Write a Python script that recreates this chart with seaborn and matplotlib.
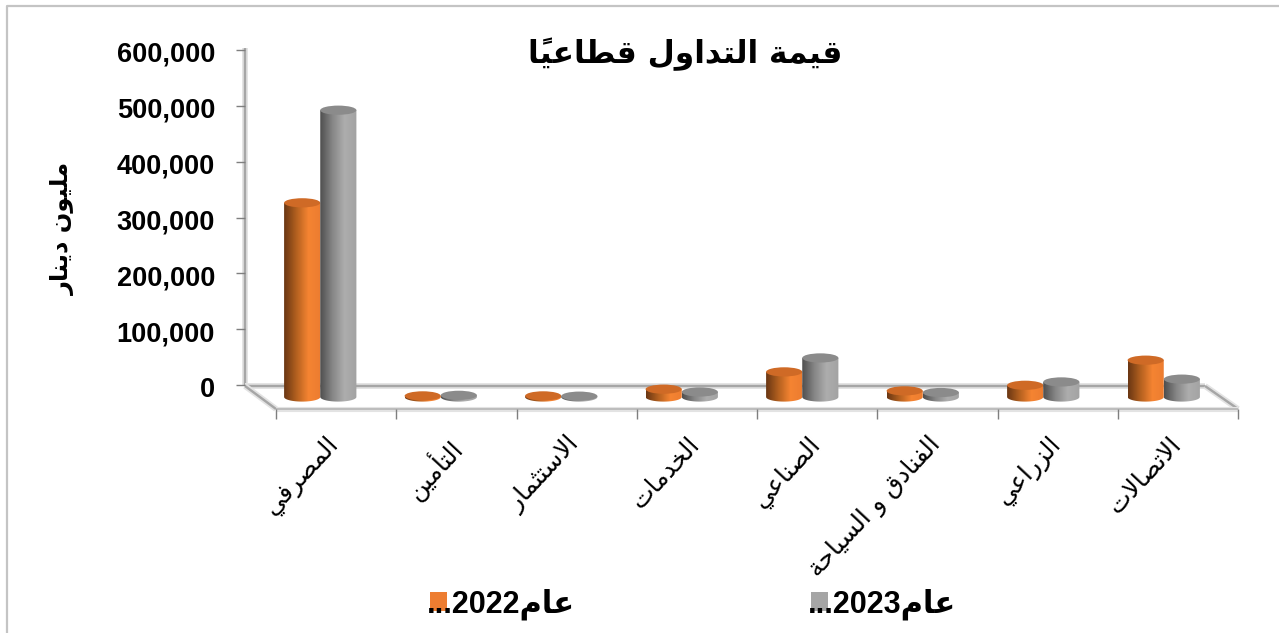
import re
import numpy as np
import pandas as pd
import matplotlib
matplotlib.use('Agg')
import matplotlib.pyplot as plt
import seaborn as sns
from matplotlib.colors import LinearSegmentedColormap
from matplotlib.patches import Ellipse, Patch, PathPatch
from matplotlib.path import Path
from matplotlib.transforms import ScaledTranslation

# Values (million dinars)
sectors = ['المصرفي', 'التأمين', 'الاستثمار', 'الخدمات', 'الصناعي',
           'الفنادق و السياحة', 'الزراعي', 'الاتصالات']
values_2022 = [348000, 2000, 2000, 14000, 45000, 11000, 21000, 66000]
values_2023 = [514000, 3000, 1500, 9000, 70000, 8000, 27000, 32000]
series_names = ['عام2022...', 'عام2023...']
y_ticks = [0, 100000, 200000, 300000, 400000, 500000, 600000]
title_text = 'قيمة التداول قطاعياً'
y_title = 'مليون دينار'

W, H = 1279, 633
FLAT = ['#ed7d31', '#a5a5a5']
TOPS = ['#cf6a26', '#8b8b8b']
RAMPS = [
    LinearSegmentedColormap.from_list('o', ['#6a3713', '#b3601f', '#f58432', '#ec7c30']),
    LinearSegmentedColormap.from_list('g', ['#4f4f4f', '#868686', '#adadad', '#a3a3a3']),
]

# matplotlib does not shape Arabic, so pick the joined forms and lay out right to left
FORMS = {
    'ا': (0xFE8D, 0xFE8E), 'أ': (0xFE83, 0xFE84), 'د': (0xFEA9, 0xFEAA), 'ر': (0xFEAD, 0xFEAE),
    'ز': (0xFEAF, 0xFEB0), 'و': (0xFEED, 0xFEEE), 'ة': (0xFE93, 0xFE94),
    'ب': (0xFE8F, 0xFE90, 0xFE91, 0xFE92), 'ت': (0xFE95, 0xFE96, 0xFE97, 0xFE98),
    'ث': (0xFE99, 0xFE9A, 0xFE9B, 0xFE9C), 'ح': (0xFEA1, 0xFEA2, 0xFEA3, 0xFEA4),
    'خ': (0xFEA5, 0xFEA6, 0xFEA7, 0xFEA8), 'س': (0xFEB1, 0xFEB2, 0xFEB3, 0xFEB4),
    'ص': (0xFEB9, 0xFEBA, 0xFEBB, 0xFEBC), 'ط': (0xFEC1, 0xFEC2, 0xFEC3, 0xFEC4),
    'ع': (0xFEC9, 0xFECA, 0xFECB, 0xFECC), 'ف': (0xFED1, 0xFED2, 0xFED3, 0xFED4),
    'ق': (0xFED5, 0xFED6, 0xFED7, 0xFED8), 'ل': (0xFEDD, 0xFEDE, 0xFEDF, 0xFEE0),
    'م': (0xFEE1, 0xFEE2, 0xFEE3, 0xFEE4), 'ن': (0xFEE5, 0xFEE6, 0xFEE7, 0xFEE8),
    'ي': (0xFEF1, 0xFEF2, 0xFEF3, 0xFEF4),
}
LAM_ALEF = {'ا': (0xFEFB, 0xFEFC), 'أ': (0xFEF7, 0xFEF8)}
MARK = '\u064B'


def shape_word(run):
    letters = [c for c in run]
    out = []
    i = 0
    while i < len(letters):
        c = letters[i]
        if c not in FORMS:
            out.append(c)
            i += 1
            continue
        prev = letters[i - 1] if i > 0 else ''
        before = prev in FORMS and len(FORMS[prev]) == 4
        after_i = i + 1
        nxt = letters[after_i] if after_i < len(letters) else ''
        if c == 'ل' and nxt in LAM_ALEF:
            out.append(chr(LAM_ALEF[nxt][1 if before else 0]))
            i += 2
            continue
        forms = FORMS[c]
        joins = nxt in FORMS and len(forms) == 4
        if before and joins:
            out.append(chr(forms[3]))
        elif before:
            out.append(chr(forms[1]))
        elif joins:
            out.append(chr(forms[2]))
        else:
            out.append(chr(forms[0]))
        i += 1
    # reverse by cluster so a mark stays after its letter
    clusters = []
    for ch in out:
        if ch == MARK and clusters:
            clusters[-1] += ch
        else:
            clusters.append(ch)
    return ''.join(reversed(clusters))


def ar(text):
    runs = re.findall(r'[\u0600-\u06FF ]+|\d+|[^\u0600-\u06FF \d]+', text)
    return ''.join(shape_word(r) if re.match(r'[\u0600-\u06FF ]', r) else r for r in reversed(runs))


sns.set_theme(style='white')
plt.rcParams['font.family'] = ['DejaVu Sans']

fig = plt.figure(figsize=(W / 100, H / 100), dpi=100, facecolor='white')


def px_box(left, top, right, bottom):
    return [left / W, 1 - bottom / H, (right - left) / W, (bottom - top) / H]


# Pixel canvas for the chart furniture (frame, floor, walls)
bg = fig.add_axes([0, 0, 1, 1])
bg.set_xlim(0, W)
bg.set_ylim(H, 0)
bg.axis('off')


def soft_line(xs, ys, width=2.4, color='#a6a6a6'):
    bg.plot(xs, ys, color='#e3e3e3', lw=(width + 3.5) * 0.72, solid_capstyle='butt')
    bg.plot(xs, ys, color=color, lw=width * 0.72, solid_capstyle='butt')


bg.plot([7, 7, W], [H, 6, 6], color='#c4c4c4', lw=1.6)
soft_line([245, 245], [48, 385])
soft_line([245, 1205], [386, 386])
soft_line([245, 276], [386, 409])
soft_line([1205, 1238], [386, 409])
soft_line([276, 1238], [409, 409], width=1.6, color='#b4b4b4')
bg.vlines(276 + 120.25 * np.arange(9), 409, 419, color='#7f7f7f', lw=1)

# Bars: zero of this axes sits on the floor, where the cylinders stand
zero_px, top_px, bottom_px = 397, 30, 435
px_per_unit = 55.8 / 100000
ax = fig.add_axes(px_box(260, top_px, 1224, bottom_px))
ax.patch.set_alpha(0)

df = pd.DataFrame({
    'sector': sectors * 2,
    'series': [series_names[0]] * len(sectors) + [series_names[1]] * len(sectors),
    'value': values_2022 + values_2023,
})
sns.barplot(data=df, x='sector', y='value', hue='series', hue_order=series_names,
            palette=FLAT, width=0.6, gap=0, saturation=1, legend=False, ax=ax)

# Turn each flat bar into a shaded cylinder
ry = 4.6 / px_per_unit
for k, container in enumerate(ax.containers):
    for bar in container:
        x0, w, h = bar.get_x(), bar.get_width(), bar.get_height()
        bar.set_visible(False)
        t = np.linspace(np.pi, 2 * np.pi, 30)
        xs = x0 + w / 2 + w / 2 * np.cos(t)
        ys = ry * np.sin(t)
        verts = np.column_stack([np.r_[xs, x0 + w, x0, x0], np.r_[ys, h, h, ys[0]]])
        clip = PathPatch(Path(verts), transform=ax.transData, facecolor='none', edgecolor='none')
        ax.add_patch(clip)
        img = ax.imshow(np.linspace(0, 1, 64)[None, :], cmap=RAMPS[k], aspect='auto',
                        extent=[x0, x0 + w, -ry, h], zorder=3 + k, interpolation='bilinear')
        img.set_clip_path(clip)
        ax.add_patch(Ellipse((x0 + w / 2, h), w, 2 * ry, facecolor=TOPS[k], edgecolor='none', zorder=3 + k))
ax.set_xlim(-0.5, len(sectors) - 0.5)
ax.set_ylim(-(bottom_px - zero_px) / px_per_unit, (zero_px - top_px) / px_per_unit)

for side in ax.spines.values():
    side.set_visible(False)
ax.set_xlabel('')
ax.set_ylabel('')
ax.set_yticks([])
ax.set_xticks(range(len(sectors)))
ax.set_xticklabels([ar(s) for s in sectors], rotation=47, ha='right', va='top',
                   rotation_mode='anchor', fontsize=18, color='black')
ax.tick_params(axis='x', length=0, pad=0)
# tick_params resets label transforms, so the nudge has to come after it
shift = ScaledTranslation(5 / 100, 3 / 100, fig.dpi_scale_trans)
for label in ax.get_xticklabels():
    label.set_transform(label.get_transform() + shift)

# Value axis, set on the back wall
ax_y = fig.add_axes(px_box(245, 50, 246, 385))
ax_y.patch.set_alpha(0)
ax_y.set_ylim(0, 600000)
ax_y.set_xticks([])
ax_y.set_yticks(y_ticks)
ax_y.set_yticklabels([f'{v:,}' for v in y_ticks], fontsize=19.5, fontweight='bold',
                     family='Liberation Sans', color='black')
ax_y.tick_params(axis='y', length=6.5, width=1, color='#7f7f7f', left=True)
shift_y = ScaledTranslation(-16 / 100, -2 / 100, fig.dpi_scale_trans)
for label in ax_y.get_yticklabels():
    label.set_transform(label.get_transform() + shift_y)
for side in ax_y.spines.values():
    side.set_visible(False)

fig.text(685 / W, 1 - 54 / H, ar(title_text), ha='center', va='center',
         fontsize=22.5, fontweight='bold', color='black')
fig.text(63 / W, 1 - 228 / H, ar(y_title), ha='center', va='center', rotation=90,
         fontsize=17.4, fontweight='bold', color='black')

handles = [Patch(facecolor=c, edgecolor='none') for c in FLAT]
leg = fig.legend(handles, [ar(s) for s in series_names], ncol=2, frameon=False,
                 loc='center', bbox_to_anchor=(693 / W, 1 - 604 / H), labelcolor='black',
                 prop={'family': ['Liberation Sans', 'DejaVu Sans'], 'weight': 'bold', 'size': 22},
                 handlelength=0.56, handleheight=0.56, handletextpad=-0.66, columnspacing=7.7)

fig.savefig('out.png', dpi=100)
